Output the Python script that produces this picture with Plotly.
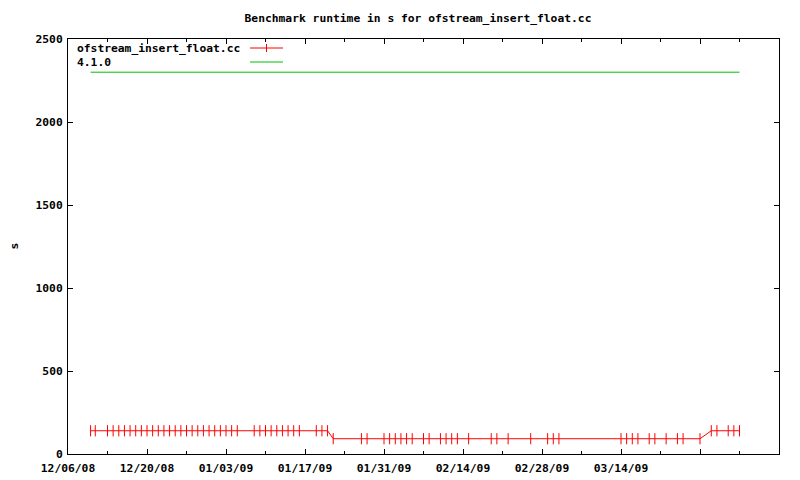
import plotly.graph_objects as go

# ---- data ----
run_dates = [
    "2008-12-10 00:00", "2008-12-10 20:00", "2008-12-13", "2008-12-14", "2008-12-15",
    "2008-12-16", "2008-12-17", "2008-12-18", "2008-12-19", "2008-12-20", "2008-12-21",
    "2008-12-22", "2008-12-23", "2008-12-24", "2008-12-25", "2008-12-26", "2008-12-27",
    "2008-12-28", "2008-12-29", "2008-12-30", "2008-12-31", "2009-01-01", "2009-01-02",
    "2009-01-03", "2009-01-04", "2009-01-05", "2009-01-08", "2009-01-09", "2009-01-10",
    "2009-01-11", "2009-01-12", "2009-01-13", "2009-01-14", "2009-01-15", "2009-01-16",
    "2009-01-19", "2009-01-20", "2009-01-21", "2009-01-22", "2009-01-27", "2009-01-28",
    "2009-01-31", "2009-02-01", "2009-02-02", "2009-02-03", "2009-02-04", "2009-02-05",
    "2009-02-07", "2009-02-08", "2009-02-10", "2009-02-11", "2009-02-12", "2009-02-13",
    "2009-02-15", "2009-02-19", "2009-02-20", "2009-02-22", "2009-02-26", "2009-03-01",
    "2009-03-02", "2009-03-03", "2009-03-14", "2009-03-15", "2009-03-16", "2009-03-17",
    "2009-03-19", "2009-03-20", "2009-03-22", "2009-03-24", "2009-03-25", "2009-03-28",
    "2009-03-30", "2009-03-31", "2009-04-02", "2009-04-03", "2009-04-04",
]
run_seconds = (
    [140] * 38
    + [92] * 33
    + [140] * 5
)
ref_dates = ["2008-12-10", "2009-04-04"]
ref_seconds = [2300, 2300]

series_names = ["ofstream_insert_float.cc", "4.1.0"]
x_tick_vals = ["2008-12-06", "2008-12-20", "2009-01-03", "2009-01-17", "2009-01-31",
               "2009-02-14", "2009-02-28", "2009-03-14", "2009-03-28", "2009-04-11"]
x_tick_text = ["12/06/08", "12/20/08", "01/03/09", "01/17/09", "01/31/09",
               "02/14/09", "02/28/09", "03/14/09", "", ""]
y_tick_vals = [0, 500, 1000, 1500, 2000, 2500]

RED = "#ff0000"
GREEN = "#00c000"
FONT = dict(family="DejaVu Sans Mono", size=11.3, color="black", weight="bold")

fig = go.Figure()
fig.add_trace(go.Scatter(
    x=ref_dates, y=ref_seconds, mode="lines", name=series_names[1],
    line=dict(color=GREEN, width=1), showlegend=False,
))
fig.add_trace(go.Scatter(
    x=run_dates, y=run_seconds, mode="lines+markers", name=series_names[0],
    line=dict(color=RED, width=1),
    marker=dict(symbol="line-ns", size=8, line=dict(color=RED, width=1)),
    showlegend=False,
))

# gnuplot-style key (text on left, sample on right)
legend_rows = [(series_names[0], RED, True), (series_names[1], GREEN, False)]
for i, (name, color, has_marker) in enumerate(legend_rows):
    ypix = 48 + 14 * i
    yp = 1 - (ypix - 39) / 415
    fig.add_annotation(xref="paper", yref="paper", x=(75 - 68) / 711, y=yp,
                       text=name, showarrow=False, xanchor="left", yanchor="middle",
                       font=FONT)
    fig.add_shape(type="line", xref="paper", yref="paper",
                  x0=(250 - 68) / 711, x1=(283 - 68) / 711, y0=yp, y1=yp,
                  line=dict(color=color, width=1))
    if has_marker:
        fig.add_shape(type="line", xref="paper", yref="paper",
                      x0=(266.5 - 68) / 711, x1=(266.5 - 68) / 711,
                      y0=yp - 4 / 415, y1=yp + 4 / 415,
                      line=dict(color=color, width=1))

fig.add_annotation(xref="paper", yref="paper", x=-54 / 711, y=0.5, text="s",
                   textangle=-90, showarrow=False, xanchor="center", yanchor="middle",
                   font=FONT)

axis_common = dict(
    showgrid=False, zeroline=False, showline=True, linecolor="black", linewidth=1,
    mirror="allticks", ticks="inside", ticklen=5, tickcolor="black", tickwidth=1,
    tickfont=FONT, automargin=False,
)
fig.update_xaxes(
    type="date", range=["2008-12-06", "2009-04-11"],
    tickmode="array", tickvals=x_tick_vals, ticktext=x_tick_text,
    minor=dict(ticks="inside", ticklen=3, tickcolor="black", dtick=7 * 86400000,
               tick0="2008-12-06", showgrid=False),
    ticklabelstandoff=3,
    **axis_common,
)
fig.update_yaxes(range=[0, 2500], tickmode="array", tickvals=y_tick_vals,
                 ticklabelstandoff=2, **axis_common)

fig.update_layout(
    width=800, height=480,
    margin=dict(l=68, r=21, t=39, b=26, autoexpand=False),
    paper_bgcolor="white", plot_bgcolor="white",
    title=dict(text="Benchmark runtime in s for ofstream_insert_float.cc",
               x=418 / 800, xanchor="center", y=1 - 18 / 480, yanchor="middle",
               font=FONT, automargin=False),
    font=FONT,
)

fig.write_html("out.html", config={"displayModeBar": False},
               post_script="document.body.style.margin='0';")
